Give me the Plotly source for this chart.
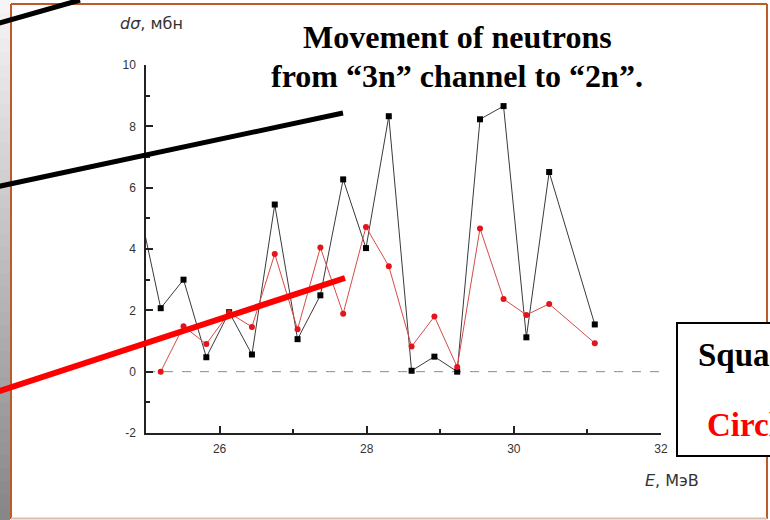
import plotly.graph_objects as go

# Energy points, MeV
energy = [25.20, 25.51, 25.82, 26.13, 26.44, 26.75, 27.06, 27.37, 27.68, 27.99,
          28.30, 28.61, 28.92, 29.23, 29.54, 29.86, 30.17, 30.48, 31.10]
# Squares series (with the preceding point just left of the axis range)
square_energy = [24.89] + energy
square_values = [5.55, 2.07, 3.00, 0.47, 1.94, 0.56, 5.45, 1.06, 2.49, 6.27, 4.03,
                 8.33, 0.03, 0.49, 0.00, 8.23, 8.66, 1.12, 6.51, 1.54]
# Circles series
circle_values = [0.00, 1.48, 0.90, 1.92, 1.46, 3.84, 1.38, 4.05, 1.89, 4.72,
                 3.44, 0.82, 1.80, 0.15, 4.67, 2.37, 1.85, 2.21, 0.93]

y_ticks = [-2, 0, 2, 4, 6, 8, 10]
y_tick_text = ["-2", "0", "2", "4", "6", "8", "10"]
x_ticks = [26, 28, 30, 32]
x_tick_text = ["26", "28", "30", "32"]

title_lines = ["Movement of neutrons", "from “3n” channel to “2n”."]
y_title = "<i>d</i><i>σ</i>, мбн"
x_title = "<i>E</i>, МэВ"
legend_lines = ["Squares", "Circles"]

W, H = 770, 520
L, R, T, B = 146, 109, 65, 87
PW, PH = W - L - R, H - T - B


def px(x):
    return (x - L) / PW


def py(y):
    return (H - B - y) / PH


fig = go.Figure()

# zero reference line
fig.add_trace(go.Scatter(x=[25, 32], y=[0, 0], mode="lines",
                         line=dict(color="#8a8a8a", width=1, dash="dash"),
                         hoverinfo="skip", showlegend=False))

fig.add_trace(go.Scatter(x=square_energy, y=square_values, mode="lines+markers",
                         line=dict(color="#3a3a3a", width=1),
                         marker=dict(symbol="square", size=6, color="#000000"),
                         showlegend=False))

fig.add_trace(go.Scatter(x=energy, y=circle_values, mode="lines+markers",
                         line=dict(color="#d84a4a", width=1),
                         marker=dict(symbol="circle", size=6, color="#e3141c"),
                         showlegend=False))

shapes = []

# gray gradient strip on the left edge
n_strips = 40
for i in range(n_strips):
    t = i / (n_strips - 1)
    g = int(245 - t * (245 - 135))
    y0 = H * i / n_strips
    y1 = H * (i + 1) / n_strips + 0.5
    shapes.append(dict(type="rect", xref="paper", yref="paper",
                       x0=px(0), x1=px(10), y0=py(y1), y1=py(y0),
                       fillcolor=f"rgb({g},{g},{g})", line=dict(width=0),
                       layer="below"))

# brown frame
brown = "#bd5a28"
shapes += [
    dict(type="line", xref="paper", yref="paper", x0=px(11), x1=px(767),
         y0=py(4), y1=py(4), line=dict(color=brown, width=2), layer="above"),
    dict(type="line", xref="paper", yref="paper", x0=px(11), x1=px(11),
         y0=py(4), y1=py(519), line=dict(color=brown, width=2), layer="above"),
    dict(type="line", xref="paper", yref="paper", x0=px(767), x1=px(767),
         y0=py(4), y1=py(519), line=dict(color=brown, width=2), layer="above"),
    dict(type="line", xref="paper", yref="paper", x0=px(11), x1=px(767),
         y0=py(518.5), y1=py(518.5), line=dict(color="#dcbcaa", width=2),
         layer="above"),
]

# thick pointer lines
shapes += [
    dict(type="line", xref="paper", yref="paper", x0=px(-2), y0=py(23.5),
         x1=px(80), y1=py(0), line=dict(color="black", width=5), layer="above"),
    dict(type="line", xref="paper", yref="paper", x0=px(-2), y0=py(186.5),
         x1=px(343), y1=py(113), line=dict(color="black", width=5), layer="above"),
    dict(type="line", xref="paper", yref="paper", x0=px(-2), y0=py(391.5),
         x1=px(345), y1=py(278), line=dict(color="#ff0000", width=6), layer="above"),
]

# legend box on the right
shapes.append(dict(type="rect", xref="paper", yref="paper",
                   x0=px(677), x1=px(800), y0=py(456), y1=py(323),
                   fillcolor="white", line=dict(color="black", width=2),
                   layer="above"))

serif = "Liberation Serif"
annotations = [
    dict(text="<b>" + title_lines[0] + "</b>", xref="paper", yref="paper",
         x=px(457), y=py(37), xanchor="center", yanchor="middle",
         showarrow=False, font=dict(family=serif, size=32, color="black")),
    dict(text="<b>" + title_lines[1] + "</b>", xref="paper", yref="paper",
         x=px(457), y=py(76), xanchor="center", yanchor="middle",
         showarrow=False, font=dict(family=serif, size=32, color="black")),
    dict(text=y_title, xref="paper", yref="paper", x=px(151), y=py(24),
         xanchor="center", yanchor="middle", showarrow=False,
         font=dict(family="DejaVu Sans", size=16, color="#333333")),
    dict(text=x_title, xref="paper", yref="paper", x=px(672), y=py(481),
         xanchor="center", yanchor="middle", showarrow=False,
         font=dict(family="DejaVu Sans", size=16, color="#333333")),
    dict(text="<b>" + legend_lines[0] + "</b>", xref="paper", yref="paper",
         x=px(696), y=py(355), xanchor="left", yanchor="middle", showarrow=False,
         font=dict(family=serif, size=33, color="black")),
    dict(text="<b>" + legend_lines[1] + "</b>", xref="paper", yref="paper",
         x=px(705), y=py(425), xanchor="left", yanchor="middle", showarrow=False,
         font=dict(family=serif, size=33, color="#ff0000")),
]

axis_font = dict(family="Liberation Sans", size=12, color="#333333")

fig.update_layout(
    width=W, height=H,
    margin=dict(l=L, r=R, t=T, b=B, pad=0),
    paper_bgcolor="white", plot_bgcolor="white",
    shapes=shapes, annotations=annotations,
    showlegend=False,
    xaxis=dict(range=[25, 32], tickvals=x_ticks, ticktext=x_tick_text,
               ticks="inside", ticklen=7, tickwidth=1.5, tickcolor="#222",
               minor=dict(ticks="inside", ticklen=4, tickwidth=1.5,
                          tickcolor="#222", tickvals=[27, 29, 31]),
               showline=True, linecolor="#222", linewidth=1.5,
               showgrid=False, zeroline=False, tickfont=axis_font,
               ticklabelstandoff=4),
    yaxis=dict(range=[-2, 10], tickvals=y_ticks, ticktext=y_tick_text,
               ticks="inside", ticklen=7, tickwidth=1.5, tickcolor="#222",
               minor=dict(ticks="inside", ticklen=4, tickwidth=1.5,
                          tickcolor="#222", tickvals=[-1, 1, 3, 5, 7, 9]),
               showline=True, linecolor="#222", linewidth=1.5,
               showgrid=False, zeroline=False, tickfont=axis_font,
               ticklabelstandoff=6),
)

fig.write_html("out.html")
